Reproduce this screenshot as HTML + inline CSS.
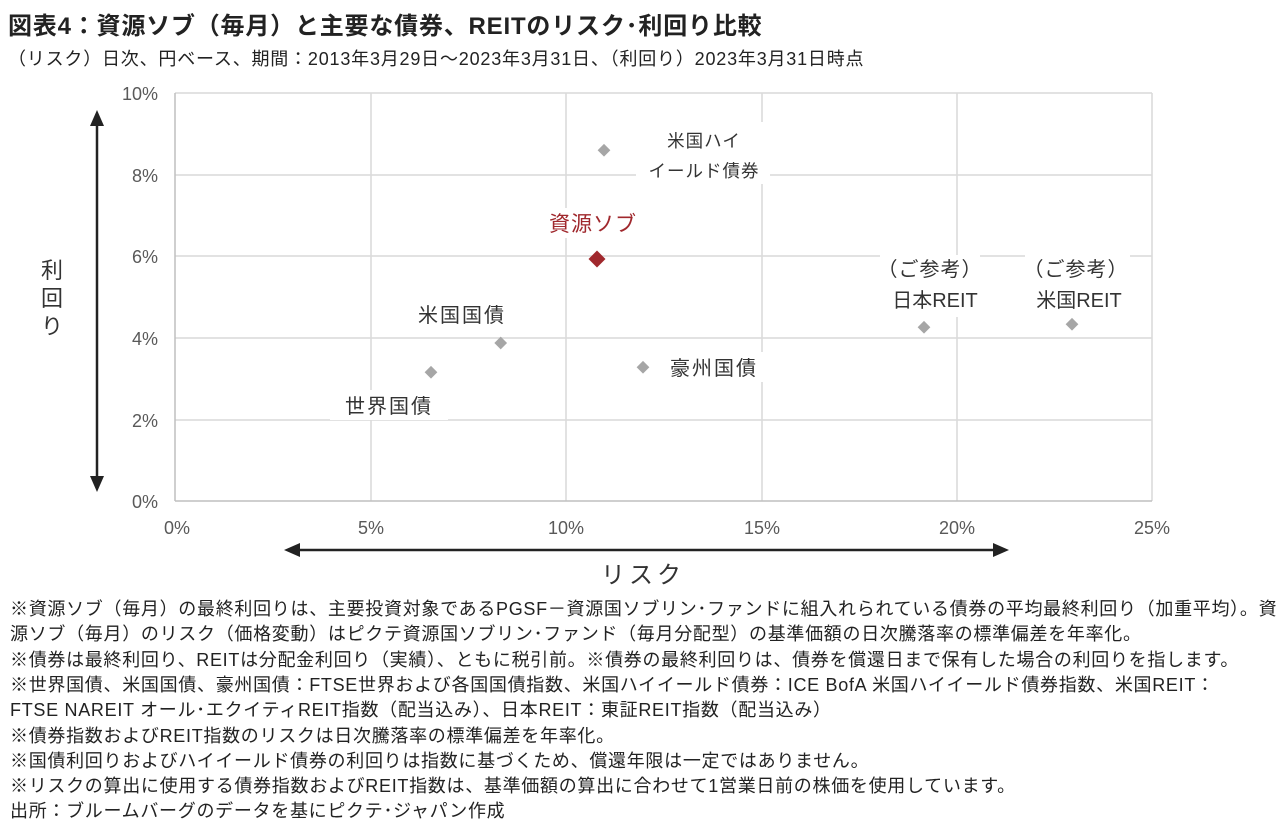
<!DOCTYPE html>
<html><head><meta charset="utf-8"><style>
body{margin:0;width:1280px;height:827px;background:#fff;font-family:"Liberation Sans","Noto Sans CJK JP",sans-serif;color:#222;overflow:hidden;position:relative}
.t{position:absolute;white-space:nowrap}
.fn{position:absolute;left:10px;font-size:18px;letter-spacing:0.7px;color:#222;white-space:nowrap;line-height:22px}
</style></head><body>
<div class="t" style="left:8px;top:6px;font-size:24px;letter-spacing:0.8px;font-weight:bold">図表4：資源ソブ（毎月）と主要な債券、REITのリスク･利回り比較</div>
<div class="t" style="left:8px;top:45px;font-size:18px;letter-spacing:0.8px">（リスク）日次、円ベース、期間：2013年3月29日～2023年3月31日、（利回り）2023年3月31日時点</div>
<svg width="1280" height="600" style="position:absolute;left:0;top:0" font-family="Liberation Sans, Noto Sans CJK JP, sans-serif">
<g stroke="#d9d9d9" stroke-width="1.5">
<line x1="175" y1="93" x2="1152" y2="93"/><line x1="175" y1="175" x2="1152" y2="175"/><line x1="175" y1="256" x2="1152" y2="256"/><line x1="175" y1="338" x2="1152" y2="338"/><line x1="175" y1="420" x2="1152" y2="420"/>
<line x1="371" y1="93" x2="371" y2="501"/><line x1="566" y1="93" x2="566" y2="501"/><line x1="762" y1="93" x2="762" y2="501"/><line x1="957" y1="93" x2="957" y2="501"/><line x1="1152" y1="93" x2="1152" y2="501"/>
</g>
<line x1="175" y1="93" x2="175" y2="501" stroke="#bfbfbf" stroke-width="1.5"/>
<line x1="175" y1="501" x2="1152" y2="501" stroke="#bfbfbf" stroke-width="1.5"/>
<g font-size="18" fill="#595959" text-anchor="end">
<text x="158" y="100">10%</text><text x="158" y="182">8%</text><text x="158" y="263">6%</text><text x="158" y="345">4%</text><text x="158" y="427">2%</text><text x="158" y="508">0%</text>
</g>
<g font-size="18" fill="#595959" text-anchor="middle">
<text x="177" y="534">0%</text><text x="371" y="534">5%</text><text x="566" y="534">10%</text><text x="762" y="534">15%</text><text x="957" y="534">20%</text><text x="1152" y="534">25%</text>
</g>
<line x1="97" y1="122" x2="97" y2="480" stroke="#222" stroke-width="2.5"/>
<polygon points="97,110 90,126 104,126" fill="#222"/><polygon points="97,492 90,476 104,476" fill="#222"/>
<line x1="297" y1="550" x2="996" y2="550" stroke="#222" stroke-width="2.5"/>
<polygon points="284,550 300,543 300,557" fill="#222"/><polygon points="1009,550 993,543 993,557" fill="#222"/>
<g font-size="22" fill="#333" text-anchor="middle"><text x="52" y="278">利</text><text x="52" y="306">回</text><text x="52" y="334">り</text></g>
<text x="643" y="583" font-size="24" fill="#333" text-anchor="middle" letter-spacing="4">リスク</text>
<g fill="#fff">
<rect x="636" y="122" width="134" height="62"/><rect x="540" y="208" width="105" height="30"/>
<rect x="405" y="298" width="112" height="30"/><rect x="330" y="390" width="118" height="30"/>
<rect x="658" y="352" width="112" height="30"/><rect x="880" y="255" width="100" height="62"/><rect x="1025" y="255" width="105" height="62"/>
</g>
<g fill="#a6a6a6">
<rect x="426" y="368" width="9" height="9" transform="rotate(45 431 373)"/>
<rect x="496" y="338" width="9" height="9" transform="rotate(45 500 343)"/>
<rect x="599" y="146" width="9" height="9" transform="rotate(45 604 151)"/>
<rect x="638" y="363" width="9" height="9" transform="rotate(45 643 368)"/>
<rect x="919" y="323" width="9" height="9" transform="rotate(45 924 328)"/>
<rect x="1067" y="320" width="9" height="9" transform="rotate(45 1072 325)"/>
</g>
<rect x="591" y="253" width="12" height="12" fill="#a0282d" transform="rotate(45 597 259)"/>
<g font-size="20" fill="#333" letter-spacing="2">
<text x="704" y="147" text-anchor="middle" font-size="17.5" letter-spacing="1">米国ハイ</text><text x="704" y="177" text-anchor="middle" font-size="17.5" letter-spacing="1">イールド債券</text>
<text x="462" y="322" text-anchor="middle">米国国債</text>
<text x="389" y="413" text-anchor="middle">世界国債</text>
<text x="714" y="375" text-anchor="middle">豪州国債</text>
<text x="930" y="276" text-anchor="middle" letter-spacing="1">（ご参考）</text><text x="935" y="307" text-anchor="middle" letter-spacing="0">日本REIT</text>
<text x="1076" y="276" text-anchor="middle" letter-spacing="1">（ご参考）</text><text x="1079" y="307" text-anchor="middle" letter-spacing="0">米国REIT</text>
</g>
<text x="593" y="231" font-size="21" fill="#a0282d" text-anchor="middle" letter-spacing="1">資源ソブ</text>
</svg>
<div class="fn" style="top:598px">※資源ソブ（毎月）の最終利回りは、主要投資対象であるPGSF－資源国ソブリン･ファンドに組入れられている債券の平均最終利回り（加重平均）。資</div>
<div class="fn" style="top:623px">源ソブ（毎月）のリスク（価格変動）はピクテ資源国ソブリン･ファンド（毎月分配型）の基準価額の日次騰落率の標準偏差を年率化。</div>
<div class="fn" style="top:649px">※債券は最終利回り、REITは分配金利回り（実績）、ともに税引前。※債券の最終利回りは、債券を償還日まで保有した場合の利回りを指します。</div>
<div class="fn" style="top:674px">※世界国債、米国国債、豪州国債：FTSE世界および各国国債指数、米国ハイイールド債券：ICE BofA 米国ハイイールド債券指数、米国REIT：</div>
<div class="fn" style="top:699px">FTSE NAREIT オール･エクイティREIT指数（配当込み）、日本REIT：東証REIT指数（配当込み）</div>
<div class="fn" style="top:725px">※債券指数およびREIT指数のリスクは日次騰落率の標準偏差を年率化。</div>
<div class="fn" style="top:750px">※国債利回りおよびハイイールド債券の利回りは指数に基づくため、償還年限は一定ではありません。</div>
<div class="fn" style="top:775px">※リスクの算出に使用する債券指数およびREIT指数は、基準価額の算出に合わせて1営業日前の株価を使用しています。</div>
<div class="fn" style="top:800px">出所：ブルームバーグのデータを基にピクテ･ジャパン作成</div>
</body></html>
